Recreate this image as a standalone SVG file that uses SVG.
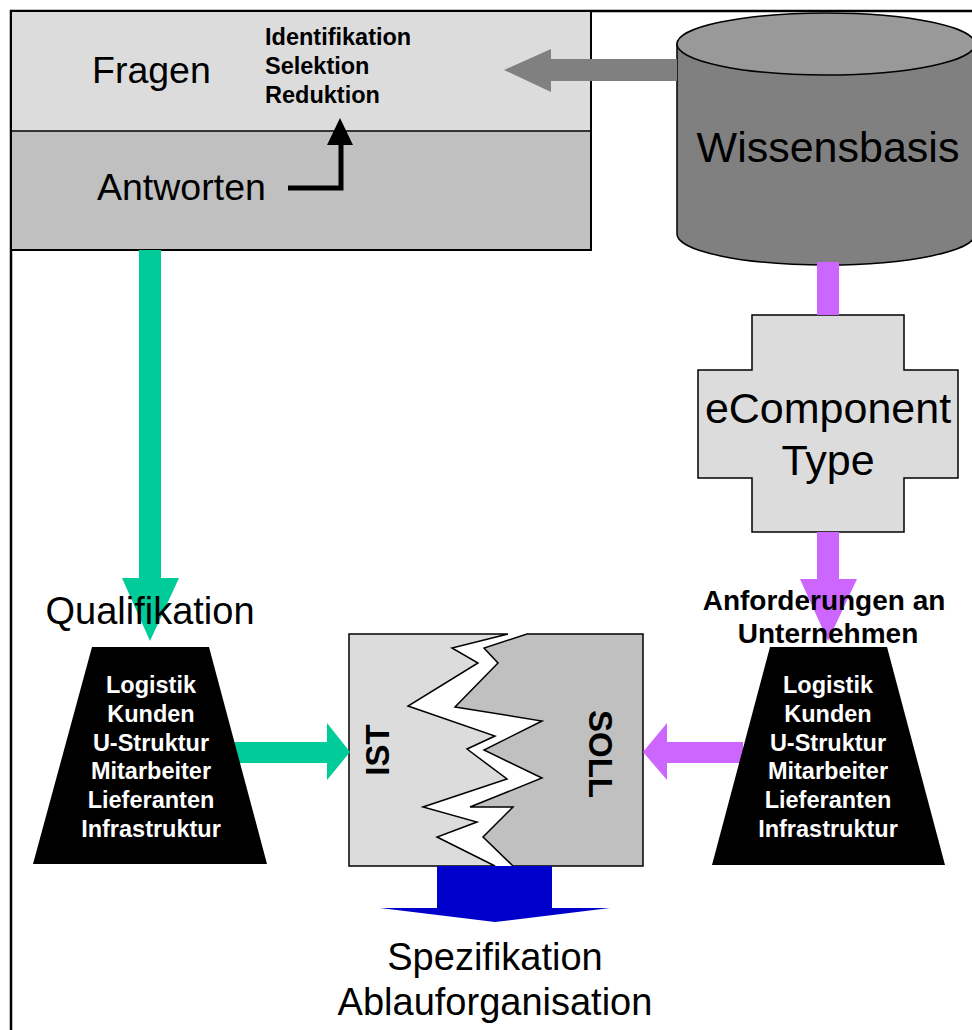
<svg xmlns="http://www.w3.org/2000/svg" width="972" height="1030" viewBox="0 0 972 1030">
  <style>
    .reg { font-family: "Liberation Sans", Arial, sans-serif; fill: #000; }
    .bold { font-family: "Liberation Sans", Arial, sans-serif; font-weight: bold; }
    .wt { fill: #fff; }
    .edge { stroke: #000; stroke-width: 1.5; }
    .green { fill: #00cc99; }
    .purple { fill: #cc66ff; }
  </style>

  <rect x="0" y="0" width="972" height="1030" fill="#fff"/>

  <!-- outer frame -->
  <g id="frame" fill="none" stroke="#000" stroke-width="2.5">
    <path d="M11,1030 L11,11 L972,11"/>
  </g>

  <!-- questions / answers panel -->
  <g id="fragen-antworten">
    <rect x="11" y="11" width="580" height="120" fill="#dcdcdc"/>
    <rect x="11" y="131" width="580" height="119" fill="#c0c0c0"/>
    <rect x="11" y="11" width="580" height="239" fill="none" stroke="#000" stroke-width="2"/>
    <line x1="11" y1="131" x2="591" y2="131" stroke="#000" stroke-width="1.5"/>
    <text class="reg" x="92" y="83" font-size="37.5">Fragen</text>
    <text class="reg" x="97" y="200" font-size="37.5">Antworten</text>
    <text class="bold" x="265" y="45" font-size="23.5">Identifikation</text>
    <text class="bold" x="265" y="74" font-size="23.5">Selektion</text>
    <text class="bold" x="265" y="103" font-size="23.5">Reduktion</text>
  </g>

  <!-- knowledge base cylinder -->
  <g id="wissensbasis">
    <path class="edge" fill="#808080" d="M677,44 L677,234 A149,31 0 0 0 975,234 L975,44 Z"/>
    <ellipse class="edge" cx="826" cy="44" rx="149" ry="31" fill="#999999"/>
    <text class="reg" x="828" y="162" font-size="43" text-anchor="middle">Wissensbasis</text>
  </g>

  <!-- component type cross -->
  <g id="ecomponent-type">
    <polygon class="edge" fill="#dcdcdc" points="752,315 904,315 904,370 958,370 958,478 904,478 904,532 752,532 752,478 698,478 698,370 752,370"/>
    <text class="reg" x="828" y="423" font-size="43" text-anchor="middle">eComponent</text>
    <text class="reg" x="828" y="475" font-size="43" text-anchor="middle">Type</text>
  </g>

  <!-- IST / SOLL comparison -->
  <g id="ist-soll">
    <polygon class="edge" fill="#dcdcdc" points="349,634 508,634 452,648 478,663 408,706 495,736 467,749 507,779 423,807 477,822 437,837 495,866 349,866"/>
    <polygon class="edge" fill="#c0c0c0" points="527,634 643,634 643,866 513,866 483,837 513,807 470,807 542,778 484,750 542,721 455,707 498,663 484,648"/>
    <text class="bold" font-size="33" text-anchor="middle" transform="translate(389,750) rotate(-90)">IST</text>
    <text class="bold" font-size="33" text-anchor="middle" transform="translate(589,754) rotate(90)">SOLL</text>
  </g>

  <!-- connectors -->
  <g id="connectors">
    <!-- knowledge base to questions -->
    <polygon fill="#808080" points="677,59 551,59 551,49 504,70 551,92 551,81 677,81"/>
    <!-- answers feed back to questions -->
    <polyline points="288,188 341,188 341,140" fill="none" stroke="#000" stroke-width="5"/>
    <polygon fill="#000" points="327,145 340,118 353,145"/>
    <!-- answers down to qualification -->
    <polygon class="green" points="139,250 161,250 161,578 179,578 150,641 122,578 139,578"/>
    <!-- qualification to IST -->
    <polygon class="green" points="233,742 327,742 327,723 350,752 327,780 327,763 233,763"/>
    <!-- knowledge base to component type -->
    <rect class="purple" x="817" y="262" width="22" height="53"/>
    <!-- component type to requirements -->
    <polygon class="purple" points="817,532 839,532 839,579 857,579 828,641 800,579 817,579"/>
    <!-- requirements to SOLL -->
    <polygon class="purple" points="743,742 667,742 667,723 643,752 667,780 667,763 743,763"/>
    <!-- specification output -->
    <polygon fill="#0000cc" points="437,866 552,866 552,908 610,908 495,922 380,908 437,908"/>
  </g>

  <!-- qualification trapezoid -->
  <g id="qualifikation">
    <text class="reg" x="150" y="624" font-size="38" text-anchor="middle">Qualifikation</text>
    <polygon fill="#000" points="92,647 209,647 267,864 33,864"/>
    <g class="bold wt" font-size="23.5" text-anchor="middle">
      <text x="151" y="693">Logistik</text>
      <text x="151" y="722">Kunden</text>
      <text x="151" y="751">U-Struktur</text>
      <text x="151" y="779">Mitarbeiter</text>
      <text x="151" y="808">Lieferanten</text>
      <text x="151" y="837">Infrastruktur</text>
    </g>
  </g>

  <!-- requirements trapezoid -->
  <g id="anforderungen">
    <text class="bold" x="824" y="610" font-size="28" text-anchor="middle">Anforderungen an</text>
    <text class="bold" x="828" y="643" font-size="28" text-anchor="middle">Unternehmen</text>
    <polygon fill="#000" points="770,647 887,647 945,865 712,865"/>
    <g class="bold wt" font-size="23.5" text-anchor="middle">
      <text x="828" y="693">Logistik</text>
      <text x="828" y="722">Kunden</text>
      <text x="828" y="751">U-Struktur</text>
      <text x="828" y="779">Mitarbeiter</text>
      <text x="828" y="808">Lieferanten</text>
      <text x="828" y="837">Infrastruktur</text>
    </g>
  </g>

  <!-- specification output label -->
  <g id="spezifikation">
    <text class="reg" x="495" y="970" font-size="38" text-anchor="middle">Spezifikation</text>
    <text class="reg" x="495" y="1015" font-size="38" text-anchor="middle">Ablauforganisation</text>
  </g>
</svg>
